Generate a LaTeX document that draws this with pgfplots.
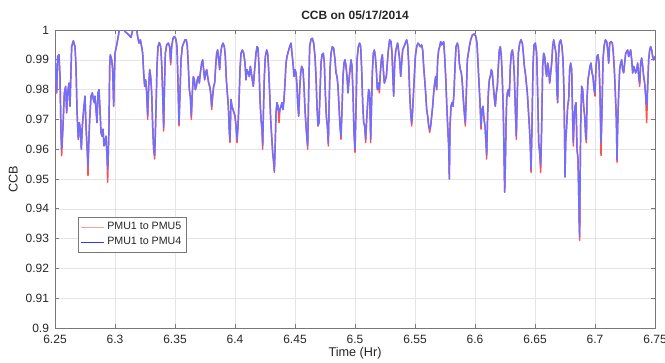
\documentclass[border=0pt]{standalone}
\usepackage{pgfplots}
\pgfplotsset{compat=1.18}
\usepackage{pgfplotstable}
\usepackage{fontspec}
\setmainfont{Liberation Sans}
\definecolor{bl}{RGB}{110,110,255}
\definecolor{rd}{RGB}{255,80,80}
\definecolor{axg}{RGB}{120,120,120}
\definecolor{txg}{RGB}{38,38,38}
\pgfplotstableread{
t b r
6.25000 0.9906 0.9906
6.25139 0.9789 0.9789
6.25222 0.9911 0.9911
6.25333 0.9917 0.9917
6.25417 0.9844 0.9844
6.25500 0.9656 0.9656
6.25556 0.9600 0.9578
6.25667 0.9678 0.9678
6.25778 0.9789 0.9789
6.25889 0.9811 0.9811
6.25972 0.9722 0.9722
6.26056 0.9789 0.9789
6.26167 0.9822 0.9822
6.26250 0.9744 0.9744
6.26389 0.9944 0.9944
6.26528 0.9964 0.9964
6.26667 0.9944 0.9944
6.26750 0.9878 0.9878
6.26833 0.9733 0.9733
6.26889 0.9678 0.9678
6.26944 0.9633 0.9633
6.27028 0.9689 0.9689
6.27111 0.9667 0.9667
6.27194 0.9600 0.9600
6.27278 0.9678 0.9678
6.27389 0.9733 0.9733
6.27500 0.9778 0.9778
6.27583 0.9678 0.9678
6.27694 0.9589 0.9589
6.27750 0.9544 0.9511
6.27806 0.9611 0.9611
6.27889 0.9700 0.9700
6.28000 0.9778 0.9778
6.28111 0.9789 0.9789
6.28194 0.9767 0.9767
6.28278 0.9756 0.9756
6.28333 0.9778 0.9778
6.28417 0.9733 0.9733
6.28500 0.9689 0.9689
6.28583 0.9789 0.9789
6.28667 0.9800 0.9800
6.28750 0.9733 0.9733
6.28833 0.9656 0.9656
6.28917 0.9644 0.9644
6.29000 0.9667 0.9667
6.29083 0.9611 0.9611
6.29167 0.9622 0.9622
6.29250 0.9644 0.9644
6.29333 0.9578 0.9578
6.29389 0.9533 0.9489
6.29444 0.9589 0.9589
6.29500 0.9678 0.9678
6.29556 0.9878 0.9878
6.29611 0.9917 0.9917
6.29722 0.9900 0.9900
6.29806 0.9867 0.9867
6.29889 0.9744 0.9744
6.29944 0.9844 0.9844
6.30000 0.9922 0.9922
6.30111 0.9944 0.9944
6.30222 0.9967 0.9967
6.30333 0.9994 0.9994
6.30417 1.0010 1.0010
6.30583 1.0020 1.0020
6.30833 0.9995 0.9995
6.31111 0.9985 0.9985
6.31333 0.9975 0.9975
6.31444 0.9995 0.9995
6.31611 1.0020 1.0020
6.31778 1.0010 1.0010
6.31889 0.9978 0.9978
6.32000 0.9956 0.9956
6.32111 0.9967 0.9967
6.32222 0.9944 0.9944
6.32306 0.9922 0.9922
6.32389 0.9856 0.9856
6.32472 0.9811 0.9811
6.32556 0.9833 0.9833
6.32639 0.9789 0.9789
6.32722 0.9711 0.9700
6.32806 0.9811 0.9811
6.32889 0.9867 0.9867
6.32972 0.9844 0.9844
6.33056 0.9789 0.9789
6.33139 0.9678 0.9678
6.33222 0.9600 0.9600
6.33306 0.9578 0.9567
6.33417 0.9733 0.9733
6.33500 0.9878 0.9878
6.33583 0.9944 0.9944
6.33694 0.9958 0.9958
6.33806 0.9944 0.9944
6.33889 0.9889 0.9889
6.33972 0.9789 0.9789
6.34056 0.9672 0.9661
6.34111 0.9789 0.9789
6.34194 0.9922 0.9922
6.34306 0.9950 0.9950
6.34444 0.9956 0.9956
6.34556 0.9944 0.9944
6.34639 0.9894 0.9883
6.34722 0.9944 0.9944
6.34833 0.9972 0.9972
6.34944 0.9978 0.9978
6.35056 0.9972 0.9972
6.35167 0.9944 0.9944
6.35250 0.9822 0.9822
6.35333 0.9689 0.9678
6.35417 0.9789 0.9789
6.35500 0.9900 0.9900
6.35611 0.9944 0.9944
6.35722 0.9956 0.9956
6.35833 0.9967 0.9967
6.35944 0.9967 0.9967
6.36028 0.9944 0.9944
6.36111 0.9878 0.9878
6.36194 0.9800 0.9800
6.36278 0.9778 0.9778
6.36361 0.9711 0.9700
6.36444 0.9789 0.9789
6.36528 0.9844 0.9844
6.36611 0.9833 0.9833
6.36694 0.9800 0.9800
6.36778 0.9811 0.9811
6.36861 0.9833 0.9833
6.36944 0.9844 0.9844
6.37028 0.9822 0.9822
6.37111 0.9856 0.9856
6.37222 0.9889 0.9889
6.37306 0.9900 0.9900
6.37389 0.9867 0.9867
6.37472 0.9833 0.9833
6.37556 0.9856 0.9856
6.37639 0.9867 0.9867
6.37722 0.9844 0.9844
6.37806 0.9822 0.9822
6.37889 0.9811 0.9811
6.37972 0.9789 0.9789
6.38056 0.9744 0.9733
6.38139 0.9778 0.9778
6.38222 0.9811 0.9811
6.38306 0.9822 0.9822
6.38389 0.9878 0.9878
6.38472 0.9922 0.9922
6.38556 0.9933 0.9933
6.38639 0.9900 0.9900
6.38722 0.9867 0.9867
6.38806 0.9922 0.9922
6.38889 0.9944 0.9944
6.39000 0.9956 0.9956
6.39111 0.9944 0.9944
6.39194 0.9911 0.9911
6.39278 0.9833 0.9833
6.39361 0.9789 0.9789
6.39444 0.9744 0.9744
6.39528 0.9656 0.9656
6.39583 0.9633 0.9622
6.39667 0.9767 0.9767
6.39750 0.9744 0.9744
6.39833 0.9733 0.9733
6.39917 0.9722 0.9722
6.40000 0.9711 0.9711
6.40083 0.9678 0.9678
6.40167 0.9633 0.9622
6.40250 0.9678 0.9678
6.40333 0.9756 0.9756
6.40417 0.9867 0.9867
6.40500 0.9922 0.9922
6.40611 0.9933 0.9933
6.40722 0.9922 0.9922
6.40833 0.9889 0.9889
6.40917 0.9833 0.9833
6.41000 0.9867 0.9867
6.41111 0.9856 0.9856
6.41194 0.9844 0.9844
6.41278 0.9878 0.9878
6.41361 0.9856 0.9856
6.41444 0.9833 0.9833
6.41528 0.9811 0.9811
6.41611 0.9856 0.9856
6.41750 0.9922 0.9922
6.41833 0.9944 0.9944
6.41917 0.9939 0.9939
6.42000 0.9878 0.9878
6.42083 0.9767 0.9767
6.42167 0.9700 0.9700
6.42250 0.9667 0.9667
6.42306 0.9611 0.9600
6.42361 0.9711 0.9711
6.42444 0.9844 0.9844
6.42528 0.9911 0.9911
6.42639 0.9933 0.9933
6.42722 0.9922 0.9922
6.42806 0.9867 0.9867
6.42889 0.9789 0.9789
6.42972 0.9700 0.9700
6.43056 0.9644 0.9644
6.43139 0.9589 0.9589
6.43222 0.9556 0.9556
6.43278 0.9528 0.9522
6.43333 0.9589 0.9589
6.43417 0.9722 0.9722
6.43500 0.9756 0.9756
6.43583 0.9744 0.9744
6.43667 0.9722 0.9689
6.43750 0.9733 0.9733
6.43833 0.9744 0.9744
6.43917 0.9756 0.9756
6.44000 0.9733 0.9733
6.44083 0.9767 0.9767
6.44167 0.9822 0.9822
6.44250 0.9889 0.9889
6.44333 0.9911 0.9911
6.44444 0.9928 0.9928
6.44556 0.9944 0.9944
6.44667 0.9956 0.9956
6.44750 0.9922 0.9922
6.44833 0.9889 0.9889
6.44917 0.9844 0.9844
6.45000 0.9867 0.9867
6.45083 0.9856 0.9856
6.45167 0.9811 0.9811
6.45222 0.9756 0.9756
6.45306 0.9711 0.9711
6.45389 0.9800 0.9800
6.45472 0.9856 0.9856
6.45556 0.9878 0.9878
6.45667 0.9867 0.9867
6.45750 0.9811 0.9811
6.45833 0.9733 0.9733
6.45917 0.9678 0.9678
6.46000 0.9633 0.9633
6.46056 0.9611 0.9600
6.46139 0.9789 0.9789
6.46222 0.9944 0.9944
6.46333 0.9969 0.9969
6.46444 0.9972 0.9972
6.46556 0.9956 0.9956
6.46667 0.9911 0.9911
6.46750 0.9844 0.9844
6.46833 0.9744 0.9744
6.46917 0.9678 0.9678
6.47000 0.9689 0.9689
6.47083 0.9789 0.9789
6.47167 0.9889 0.9889
6.47250 0.9917 0.9917
6.47361 0.9922 0.9922
6.47444 0.9889 0.9889
6.47528 0.9789 0.9789
6.47611 0.9711 0.9711
6.47694 0.9678 0.9678
6.47778 0.9622 0.9611
6.47833 0.9733 0.9733
6.47917 0.9867 0.9867
6.48000 0.9922 0.9922
6.48111 0.9944 0.9944
6.48222 0.9939 0.9939
6.48333 0.9900 0.9900
6.48417 0.9856 0.9856
6.48500 0.9844 0.9844
6.48583 0.9811 0.9811
6.48667 0.9744 0.9744
6.48750 0.9678 0.9678
6.48833 0.9644 0.9633
6.48917 0.9733 0.9733
6.49000 0.9844 0.9844
6.49083 0.9889 0.9889
6.49167 0.9900 0.9900
6.49250 0.9878 0.9878
6.49333 0.9844 0.9844
6.49417 0.9789 0.9789
6.49500 0.9833 0.9833
6.49583 0.9867 0.9867
6.49667 0.9900 0.9900
6.49750 0.9878 0.9878
6.49833 0.9789 0.9789
6.49917 0.9656 0.9656
6.50000 0.9600 0.9589
6.50083 0.9733 0.9733
6.50167 0.9900 0.9900
6.50278 0.9944 0.9944
6.50389 0.9956 0.9956
6.50472 0.9944 0.9944
6.50556 0.9867 0.9867
6.50639 0.9756 0.9756
6.50722 0.9689 0.9689
6.50806 0.9678 0.9678
6.50889 0.9633 0.9622
6.50972 0.9700 0.9700
6.51056 0.9756 0.9756
6.51139 0.9800 0.9800
6.51222 0.9789 0.9789
6.51306 0.9633 0.9622
6.51361 0.9722 0.9722
6.51444 0.9856 0.9856
6.51528 0.9922 0.9922
6.51611 0.9933 0.9933
6.51694 0.9911 0.9911
6.51778 0.9867 0.9867
6.51861 0.9800 0.9800
6.51944 0.9822 0.9822
6.52028 0.9800 0.9789
6.52111 0.9856 0.9856
6.52194 0.9900 0.9900
6.52278 0.9917 0.9917
6.52361 0.9867 0.9867
6.52444 0.9822 0.9822
6.52528 0.9833 0.9833
6.52611 0.9844 0.9844
6.52694 0.9889 0.9889
6.52778 0.9933 0.9933
6.52889 0.9967 0.9967
6.53000 0.9961 0.9961
6.53083 0.9922 0.9922
6.53167 0.9833 0.9833
6.53222 0.9778 0.9778
6.53306 0.9889 0.9889
6.53389 0.9928 0.9928
6.53472 0.9944 0.9944
6.53556 0.9956 0.9956
6.53639 0.9928 0.9928
6.53722 0.9900 0.9900
6.53806 0.9844 0.9844
6.53889 0.9889 0.9889
6.53972 0.9933 0.9933
6.54083 0.9944 0.9944
6.54194 0.9956 0.9956
6.54306 0.9967 0.9967
6.54389 0.9950 0.9950
6.54472 0.9889 0.9889
6.54556 0.9789 0.9789
6.54639 0.9722 0.9722
6.54722 0.9689 0.9678
6.54778 0.9711 0.9711
6.54861 0.9778 0.9778
6.54944 0.9844 0.9844
6.55028 0.9911 0.9911
6.55139 0.9944 0.9944
6.55250 0.9956 0.9956
6.55361 0.9950 0.9950
6.55444 0.9944 0.9944
6.55556 0.9950 0.9950
6.55639 0.9933 0.9933
6.55722 0.9878 0.9878
6.55806 0.9833 0.9833
6.55889 0.9789 0.9789
6.55972 0.9733 0.9733
6.56056 0.9711 0.9711
6.56139 0.9678 0.9678
6.56222 0.9667 0.9656
6.56306 0.9678 0.9678
6.56389 0.9711 0.9711
6.56472 0.9744 0.9744
6.56556 0.9789 0.9789
6.56639 0.9822 0.9822
6.56722 0.9844 0.9844
6.56806 0.9800 0.9800
6.56889 0.9900 0.9900
6.56972 0.9933 0.9933
6.57056 0.9944 0.9944
6.57139 0.9961 0.9961
6.57222 0.9950 0.9950
6.57306 0.9956 0.9956
6.57389 0.9961 0.9961
6.57472 0.9911 0.9911
6.57556 0.9844 0.9844
6.57639 0.9756 0.9756
6.57722 0.9678 0.9678
6.57806 0.9611 0.9611
6.57861 0.9500 0.9500
6.57917 0.9678 0.9678
6.58000 0.9744 0.9744
6.58083 0.9756 0.9756
6.58167 0.9744 0.9744
6.58250 0.9789 0.9789
6.58333 0.9878 0.9878
6.58417 0.9944 0.9944
6.58528 0.9956 0.9956
6.58611 0.9944 0.9944
6.58694 0.9889 0.9889
6.58778 0.9867 0.9867
6.58861 0.9856 0.9856
6.58944 0.9822 0.9822
6.59028 0.9767 0.9767
6.59111 0.9722 0.9722
6.59194 0.9689 0.9678
6.59278 0.9789 0.9789
6.59361 0.9900 0.9900
6.59444 0.9922 0.9922
6.59528 0.9944 0.9944
6.59639 0.9967 0.9967
6.59778 0.9983 0.9983
6.59917 0.9987 0.9987
6.60056 0.9980 0.9980
6.60167 0.9956 0.9956
6.60250 0.9889 0.9889
6.60333 0.9822 0.9822
6.60417 0.9756 0.9756
6.60500 0.9678 0.9667
6.60583 0.9733 0.9733
6.60667 0.9744 0.9744
6.60750 0.9700 0.9700
6.60833 0.9678 0.9678
6.60917 0.9622 0.9622
6.60972 0.9578 0.9567
6.61028 0.9678 0.9678
6.61111 0.9789 0.9789
6.61194 0.9833 0.9833
6.61278 0.9844 0.9844
6.61361 0.9867 0.9867
6.61444 0.9856 0.9856
6.61528 0.9811 0.9811
6.61611 0.9778 0.9767
6.61694 0.9744 0.9744
6.61778 0.9789 0.9789
6.61861 0.9811 0.9811
6.61944 0.9878 0.9878
6.62028 0.9933 0.9933
6.62111 0.9944 0.9944
6.62194 0.9911 0.9911
6.62278 0.9833 0.9833
6.62361 0.9722 0.9722
6.62417 0.9589 0.9589
6.62472 0.9456 0.9456
6.62528 0.9544 0.9544
6.62583 0.9678 0.9678
6.62639 0.9767 0.9767
6.62694 0.9789 0.9789
6.62778 0.9800 0.9800
6.62861 0.9778 0.9778
6.62944 0.9878 0.9878
6.63028 0.9922 0.9922
6.63111 0.9933 0.9933
6.63194 0.9911 0.9911
6.63278 0.9844 0.9844
6.63361 0.9733 0.9733
6.63444 0.9644 0.9633
6.63528 0.9789 0.9789
6.63611 0.9922 0.9922
6.63722 0.9956 0.9956
6.63833 0.9967 0.9967
6.63944 0.9956 0.9956
6.64028 0.9922 0.9922
6.64111 0.9878 0.9878
6.64194 0.9856 0.9856
6.64278 0.9822 0.9822
6.64361 0.9789 0.9789
6.64444 0.9733 0.9733
6.64528 0.9678 0.9678
6.64611 0.9611 0.9611
6.64667 0.9533 0.9522
6.64750 0.9678 0.9678
6.64833 0.9878 0.9878
6.64917 0.9950 0.9950
6.65028 0.9956 0.9956
6.65139 0.9922 0.9922
6.65222 0.9789 0.9789
6.65306 0.9622 0.9622
6.65389 0.9589 0.9589
6.65472 0.9544 0.9522
6.65556 0.9678 0.9678
6.65639 0.9878 0.9878
6.65722 0.9922 0.9922
6.65806 0.9911 0.9911
6.65889 0.9867 0.9867
6.65972 0.9844 0.9844
6.66056 0.9889 0.9889
6.66139 0.9867 0.9867
6.66222 0.9822 0.9822
6.66306 0.9856 0.9856
6.66389 0.9889 0.9889
6.66472 0.9944 0.9944
6.66556 0.9967 0.9967
6.66750 0.9922 0.9922
6.66833 0.9789 0.9789
6.66889 0.9756 0.9756
6.66944 0.9900 0.9900
6.67028 0.9956 0.9956
6.67139 0.9967 0.9967
6.67250 0.9944 0.9944
6.67333 0.9900 0.9900
6.67417 0.9789 0.9789
6.67472 0.9622 0.9622
6.67500 0.9506 0.9506
6.67556 0.9622 0.9622
6.67639 0.9678 0.9678
6.67722 0.9744 0.9744
6.67806 0.9767 0.9767
6.67889 0.9867 0.9867
6.67972 0.9889 0.9889
6.68056 0.9867 0.9867
6.68139 0.9700 0.9700
6.68194 0.9622 0.9611
6.68250 0.9689 0.9689
6.68333 0.9744 0.9744
6.68417 0.9756 0.9756
6.68500 0.9600 0.9600
6.68583 0.9567 0.9567
6.68639 0.9456 0.9456
6.68694 0.9333 0.9333
6.68722 0.9306 0.9294
6.68750 0.9456 0.9456
6.68806 0.9678 0.9678
6.68889 0.9811 0.9811
6.68972 0.9800 0.9800
6.69056 0.9744 0.9744
6.69139 0.9711 0.9711
6.69222 0.9644 0.9644
6.69278 0.9633 0.9622
6.69333 0.9767 0.9767
6.69417 0.9833 0.9833
6.69500 0.9856 0.9856
6.69583 0.9878 0.9878
6.69667 0.9889 0.9889
6.69750 0.9856 0.9856
6.69833 0.9844 0.9844
6.69917 0.9800 0.9800
6.70000 0.9789 0.9778
6.70083 0.9878 0.9878
6.70167 0.9911 0.9911
6.70250 0.9917 0.9917
6.70333 0.9889 0.9889
6.70417 0.9789 0.9789
6.70500 0.9622 0.9578
6.70583 0.9733 0.9733
6.70667 0.9900 0.9900
6.70750 0.9944 0.9944
6.70861 0.9967 0.9967
6.70972 0.9961 0.9961
6.71056 0.9933 0.9933
6.71139 0.9889 0.9889
6.71222 0.9956 0.9956
6.71333 0.9961 0.9961
6.71444 0.9956 0.9956
6.71528 0.9922 0.9922
6.71611 0.9867 0.9867
6.71694 0.9789 0.9789
6.71778 0.9700 0.9700
6.71833 0.9567 0.9556
6.71889 0.9678 0.9678
6.71972 0.9789 0.9789
6.72056 0.9867 0.9867
6.72139 0.9889 0.9889
6.72222 0.9900 0.9900
6.72306 0.9867 0.9867
6.72389 0.9856 0.9856
6.72472 0.9889 0.9889
6.72556 0.9922 0.9922
6.72639 0.9928 0.9928
6.72722 0.9933 0.9933
6.72806 0.9911 0.9911
6.72889 0.9922 0.9922
6.72972 0.9933 0.9933
6.73056 0.9900 0.9900
6.73139 0.9856 0.9856
6.73222 0.9878 0.9878
6.73306 0.9867 0.9867
6.73389 0.9856 0.9856
6.73472 0.9867 0.9867
6.73556 0.9889 0.9889
6.73639 0.9844 0.9844
6.73722 0.9822 0.9811
6.73806 0.9889 0.9889
6.73889 0.9906 0.9906
6.73972 0.9878 0.9878
6.74056 0.9844 0.9844
6.74139 0.9822 0.9822
6.74222 0.9778 0.9778
6.74306 0.9744 0.9689
6.74389 0.9811 0.9811
6.74472 0.9900 0.9900
6.74556 0.9933 0.9933
6.74639 0.9944 0.9944
6.74722 0.9933 0.9933
6.74806 0.9911 0.9911
6.74889 0.9900 0.9900
6.75000 0.9911 0.9911
}\ccbdata
\begin{document}
\begin{tikzpicture}
\begin{axis}[
  scale only axis,
  width=450pt, height=223.5pt,
  xmin=6.25, xmax=6.75, ymin=0.9, ymax=1,
  xtick={6.25,6.30,6.35,6.40,6.45,6.50,6.55,6.60,6.65,6.70,6.75},
  xticklabels={6.25,6.3,6.35,6.4,6.45,6.5,6.55,6.6,6.65,6.7,6.75},
  ytick={0.90,0.91,0.92,0.93,0.94,0.95,0.96,0.97,0.98,0.99,1.00},
  yticklabels={0.9,0.91,0.92,0.93,0.94,0.95,0.96,0.97,0.98,0.99,1},
  grid=major,
  major grid style={color=black!10, line width=0.4pt},
  tick align=inside,
  major tick length=3pt,
  axis line style={axg, line width=0.5pt},
  tick style={axg, line width=0.5pt},
  ticklabel style={font=\fontsize{9}{10}\selectfont, text=txg},
  xticklabel style={yshift=-2pt},
  yticklabel style={xshift=-1pt},
  xlabel={Time (Hr)},
  ylabel={CCB},
  xlabel style={font=\fontsize{9.5}{11}\selectfont, text=txg, yshift=4pt},
  ylabel style={font=\fontsize{9.5}{11}\selectfont, text=txg, yshift=-1pt},
  title={CCB on 05/17/2014},
  title style={font=\fontsize{9}{11}\selectfont\bfseries, text=txg, yshift=-2pt},
  legend style={at={(0.0383,0.3725)}, anchor=north west,
    font=\fontsize{8}{9}\selectfont, draw=axg, text=txg,
    row sep=0pt, inner sep=2pt},
  legend cell align=left,
]
\coordinate (sw) at (rel axis cs:0,0);
\coordinate (ne) at (rel axis cs:1,1);
\addplot[color=rd, line width=1.1pt, line join=round,
  legend image post style={color=rd!55, line width=0.7pt}] table[x=t, y=r] {\ccbdata};
\addlegendentry{PMU1 to PMU5}
\addplot[color=bl, line width=1.1pt, line join=round,
  legend image post style={color=blue!80, line width=0.6pt}] table[x=t, y=b] {\ccbdata};
\addlegendentry{PMU1 to PMU4}
\end{axis}
\pgfresetboundingbox
\path[use as bounding box] ([shift={(-41.25pt,-25.5pt)}]sw) rectangle ([shift={(7.5pt,22.5pt)}]ne);
\end{tikzpicture}
\end{document}
